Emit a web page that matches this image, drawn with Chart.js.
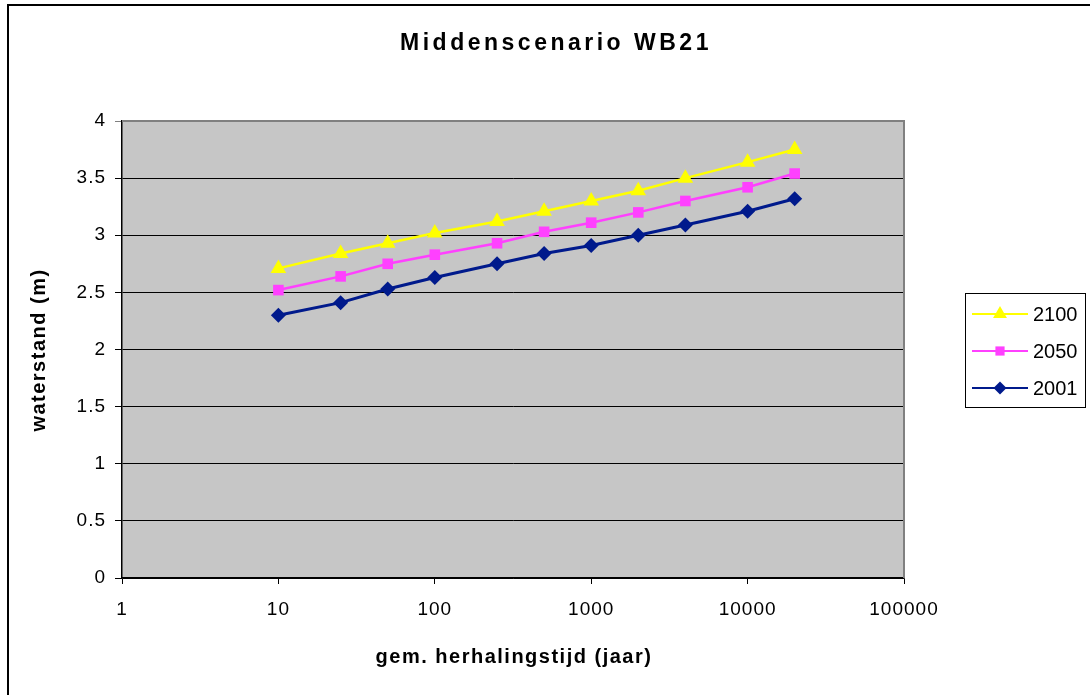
<!DOCTYPE html>
<html>
<head>
<meta charset="utf-8">
<script src="https://cdn.jsdelivr.net/npm/chart.js@4/dist/chart.umd.min.js"></script>
<style>
  body { margin: 0; background: #fff; }
  #wrap { position: relative; width: 1090px; height: 695px; overflow: hidden; }
  #frame { position: absolute; left: 7px; top: 4px; width: 1200px; height: 800px;
           border-left: 2px solid #000; border-top: 2px solid #000; }
  canvas { position: absolute; left: 0; top: 0; }
</style>
</head>
<body>
<div id="wrap">
  <div id="frame"></div>
  <canvas id="wb21" width="1090" height="695"></canvas>
</div>
<script>
// gemiddelde herhalingstijd (jaar)
const returnPeriods = [10, 25, 50, 100, 250, 500, 1000, 2000, 4000, 10000, 20000];
// waterstand (m) per scenario
const wl2100 = [2.71, 2.84, 2.93, 3.02, 3.12, 3.21, 3.30, 3.39, 3.50, 3.64, 3.75];
const wl2050 = [2.52, 2.64, 2.75, 2.83, 2.93, 3.03, 3.11, 3.20, 3.30, 3.42, 3.54];
const wl2001 = [2.30, 2.41, 2.53, 2.63, 2.75, 2.84, 2.91, 3.00, 3.09, 3.21, 3.32];

const xTicks = [1, 10, 100, 1000, 10000, 100000];
const xTickLabels = ["1", "10", "100", "1000", "10000", "100000"];
const yTickLabels = ["0", "0.5", "1", "1.5", "2", "2.5", "3", "3.5", "4"];
const seriesNames = ["2100", "2050", "2001"];

const FONT = "'Liberation Sans', Arial, sans-serif";
const GRAY = "#C6C6C6";

const styles = {
  "2100": { color: "#FFFF00", point: "triangle", radius: 9, width: 2.5 },
  "2050": { color: "#FF40FF", point: "rect", radius: 7.5, width: 2.5 },
  "2001": { color: "#001A8C", point: "rectRot", radius: 7.5, width: 3 }
};

function makeSet(name, values) {
  const s = styles[name];
  return {
    label: name,
    data: returnPeriods.map((x, i) => ({ x, y: values[i] })),
    borderColor: s.color,
    backgroundColor: s.color,
    borderWidth: s.width,
    pointStyle: s.point,
    pointRadius: s.radius,
    pointBorderWidth: 0,
    pointHoverRadius: s.radius,
    tension: 0
  };
}

// tekst, achtergrond, legenda
const decor = {
  id: "decor",
  beforeDraw(chart) {
    const { ctx, chartArea: a } = chart;
    ctx.save();
    ctx.fillStyle = GRAY;
    ctx.fillRect(a.left, a.top, a.right - a.left, a.bottom - a.top);
    ctx.restore();
    ctx.letterSpacing = "1px";
  },
  afterDraw(chart) {
    const { ctx, chartArea: a } = chart;
    ctx.save();
    // rand plotgebied (boven en rechts)
    ctx.strokeStyle = "#808080";
    ctx.lineWidth = 2;
    ctx.beginPath();
    ctx.moveTo(a.left, a.top);
    ctx.lineTo(a.right, a.top);
    ctx.lineTo(a.right, a.bottom);
    ctx.stroke();

    ctx.fillStyle = "#000";
    ctx.textAlign = "center";
    ctx.textBaseline = "alphabetic";

    ctx.font = "bold 23px " + FONT;
    ctx.letterSpacing = "3.5px";
    ctx.fillText("Middenscenario WB21", 556, 50);

    ctx.font = "bold 20px " + FONT;
    ctx.letterSpacing = "1.5px";
    ctx.fillText("gem. herhalingstijd (jaar)", 514, 663);

    ctx.save();
    ctx.translate(45, 350);
    ctx.rotate(-Math.PI / 2);
    ctx.fillText("waterstand (m)", 0, 0);
    ctx.restore();

    // legenda
    ctx.letterSpacing = "0px";
    ctx.lineWidth = 1;
    ctx.strokeStyle = "#000";
    ctx.strokeRect(965.5, 293.5, 120, 114);
    ctx.font = "20px " + FONT;
    ctx.textAlign = "left";
    ctx.textBaseline = "middle";
    seriesNames.forEach((name, i) => {
      const s = styles[name];
      const y = 314 + i * 37;
      ctx.strokeStyle = s.color;
      ctx.lineWidth = 2;
      ctx.beginPath();
      ctx.moveTo(972, y);
      ctx.lineTo(1028, y);
      ctx.stroke();
      ctx.fillStyle = s.color;
      Chart.helpers.drawPoint(ctx, { pointStyle: s.point, radius: s.radius - 1, rotation: 0, borderWidth: 0 }, 1000, y);
      ctx.fillStyle = "#000";
      ctx.fillText(name, 1033, y + 1);
    });
    ctx.restore();
  }
};

new Chart(document.getElementById("wb21"), {
  type: "line",
  data: {
    datasets: [makeSet("2100", wl2100), makeSet("2050", wl2050), makeSet("2001", wl2001)]
  },
  options: {
    responsive: false,
    animation: false,
    layout: { padding: { left: 0, top: 121, right: 186, bottom: 0 } },
    plugins: {
      legend: { display: false },
      title: { display: false },
      tooltip: { enabled: false }
    },
    scales: {
      x: {
        type: "logarithmic",
        min: 1,
        max: 100000,
        afterBuildTicks: scale => { scale.ticks = xTicks.map(v => ({ value: v })); },
        afterFit: scale => { scale.height = 117; },
        ticks: {
          autoSkip: false,
          maxRotation: 0,
          padding: 14,
          color: "#000",
          font: { family: FONT, size: 19 },
          callback: v => xTickLabels[xTicks.indexOf(v)]
        },
        grid: { drawOnChartArea: false, drawTicks: true, tickLength: 6, color: "#000" },
        border: { color: "#000", width: 1.5 }
      },
      y: {
        min: 0,
        max: 4,
        afterFit: scale => { scale.width = 122; },
        ticks: {
          stepSize: 0.5,
          padding: 9,
          color: "#000",
          font: { family: FONT, size: 19 },
          callback: (v, i) => yTickLabels[i]
        },
        grid: {
          color: c => (c.tick && c.tick.value === 4 ? "#808080" : "#000"),
          lineWidth: 1,
          tickLength: 7
        },
        border: { color: "#000", width: 1.5 }
      }
    }
  },
  plugins: [decor]
});
</script>
</body>
</html>
